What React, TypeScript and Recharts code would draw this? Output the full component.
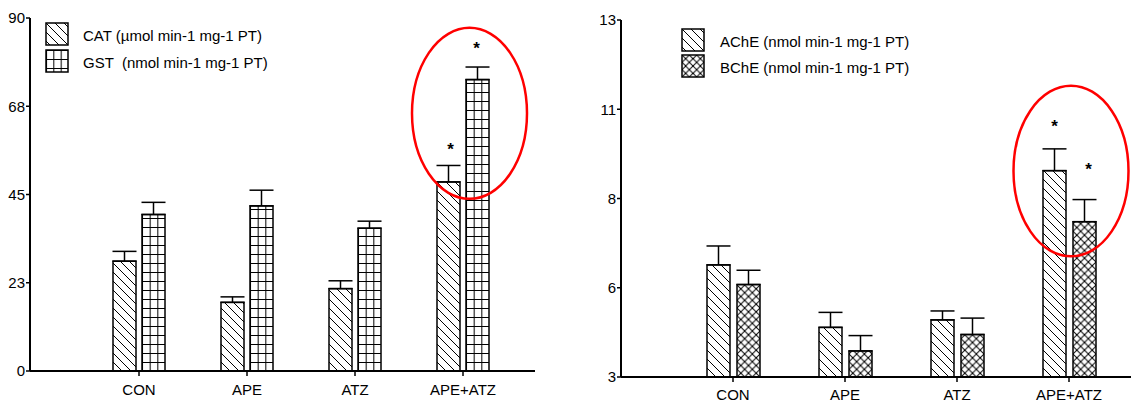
import React from 'react';
import { BarChart, Bar, XAxis, YAxis, ErrorBar, LabelList, Legend } from 'recharts';

// ---------- data ----------
const categories = ['CON', 'APE', 'ATZ', 'APE+ATZ'];

const catValues = [28.0, 17.5, 21.0, 48.2];
const catErrors = [2.5, 1.4, 2.0, 4.2];
const catSig = [false, false, false, true];
const gstValues = [39.9, 42.1, 36.4, 74.3];
const gstErrors = [3.1, 4.0, 1.8, 3.2];
const gstSig = [false, false, false, true];

const acheValues = [6.14, 4.39, 4.6, 8.78];
const acheErrors = [0.53, 0.42, 0.25, 0.61];
const acheSig = [false, false, false, true];
const bcheValues = [5.59, 3.73, 4.19, 7.35];
const bcheErrors = [0.4, 0.43, 0.46, 0.62];
const bcheSig = [false, false, false, true];

const leftTicks = [0, 22.5, 45, 67.5, 90];
const rightTicks = [3, 5.5, 8, 10.5, 13];

const leftLegend = ['CAT (µmol min-1 mg-1 PT)', 'GST  (nmol min-1 mg-1 PT)'];
const rightLegend = ['AChE (nmol min-1 mg-1 PT)', 'BChE (nmol min-1 mg-1 PT)'];

// highlighted group (red ellipse), value range in data units
const leftHighlight = { category: 'APE+ATZ', y1: 43.9, y2: 87.5 };
const rightHighlight = { category: 'APE+ATZ', y1: 6.38, y2: 11.16 };

const leftData = categories.map((c, i) => ({
  name: c,
  cat: catValues[i],
  catErr: [0, catErrors[i]],
  gst: gstValues[i],
  gstErr: [0, gstErrors[i]],
}));

const rightData = categories.map((c, i) => ({
  name: c,
  ache: acheValues[i],
  acheErr: [0, acheErrors[i]],
  bche: bcheValues[i],
  bcheErr: [0, bcheErrors[i]],
}));

const FONT = '"Liberation Sans", Arial, sans-serif';

type PType = 'diag' | 'grid' | 'cross';

function makePattern(type: PType, id: string, x: number, y: number, w: number) {
  if (type === 'diag') {
    const s = 9;
    return (
      <pattern id={id} patternUnits="userSpaceOnUse" x={x} y={y} width={s} height={s}>
        <rect x={0} y={0} width={s} height={s} fill="#fff" />
        <path d={`M-1,-1 L${s + 1},${s + 1} M-1,${s - 1} L1,${s + 1} M${s - 1},-1 L${s + 1},1`} stroke="#000" strokeWidth={1} />
      </pattern>
    );
  }
  if (type === 'grid') {
    const tw = w / 3;
    const th = 9;
    return (
      <pattern id={id} patternUnits="userSpaceOnUse" x={x} y={y} width={tw} height={th}>
        <rect x={0} y={0} width={tw} height={th} fill="#fff" />
        <path d={`M0,0 H${tw} M0,0 V${th}`} stroke="#000" strokeWidth={2} />
      </pattern>
    );
  }
  const tw = w / 3;
  const th = tw;
  return (
    <pattern id={id} patternUnits="userSpaceOnUse" x={x} y={y} width={tw} height={th}>
      <rect x={0} y={0} width={tw} height={th} fill="#fff" />
      <path d={`M0,0 L${tw},${th} M${tw},0 L0,${th}`} stroke="#000" strokeWidth={1} />
      <circle cx={tw / 2} cy={th / 2} r={0.9} fill="#000" />
    </pattern>
  );
}

function patternShape(type: PType, prefix: string) {
  return (props: any) => {
    const { x, y, width, height, index } = props;
    if (!height || height <= 0) return <g />;
    const id = `${prefix}-${index}`;
    return (
      <g>
        <defs>{makePattern(type, id, x, y + height, width)}</defs>
        <rect x={x} y={y} width={width} height={height} fill={`url(#${id})`} stroke="#000" strokeWidth={1.5} />
      </g>
    );
  };
}

function starLabel(sig: boolean[], errs: number[], base: number, off: number, dx: number) {
  return (props: any) => {
    const { x, y, width, height, index, value } = props;
    if (!sig[index]) return null;
    const ppu = height / (value - base);
    const capY = y - errs[index] * ppu;
    return (
      <text x={x + width / 2 + dx} y={capY - off} textAnchor="middle" fontSize={17} fontWeight="bold" fontFamily={FONT} fill="#000">
        *
      </text>
    );
  };
}

// red ellipse drawn in the label layer of the second series so it sits above the bars
function ellipseLabel(hi: { category: string; y1: number; y2: number }, base: number, dx: number, rx: number) {
  return (props: any) => {
    const { x, y, height, index, value } = props;
    if (categories[index] !== hi.category) return null;
    const ppu = height / (value - base);
    const yBase = y + height;
    const top = yBase - (hi.y2 - base) * ppu;
    const bottom = yBase - (hi.y1 - base) * ppu;
    return (
      <ellipse
        cx={x + dx}
        cy={(top + bottom) / 2}
        rx={rx}
        ry={(bottom - top) / 2}
        fill="none"
        stroke="#ff0000"
        strokeWidth={2.5}
      />
    );
  };
}

function legendContent(labels: string[], types: PType[], prefix: string, rowStep: number, textLeft: number) {
  return () => (
    <div style={{ position: 'relative', width: 260, height: rowStep * 2, fontFamily: FONT }}>
      {labels.map((l, i) => (
        <React.Fragment key={l}>
          <svg width={24} height={24} style={{ position: 'absolute', left: 0, top: i * rowStep }}>
            <defs>{makePattern(types[i], `${prefix}-${i}`, 1, 1, 22)}</defs>
            <rect x={1} y={1} width={22} height={22} fill={`url(#${prefix}-${i})`} stroke="#000" strokeWidth={1.5} />
          </svg>
          <span
            style={{
              position: 'absolute',
              left: textLeft,
              top: i * rowStep + 6,
              fontSize: 15,
              lineHeight: '15px',
              whiteSpace: 'pre',
              color: '#000',
            }}
          >
            {l}
          </span>
        </React.Fragment>
      ))}
    </div>
  );
}

const axisTick = { fill: '#000', fontSize: 15, fontFamily: FONT };

export default function App() {
  return (
    <div style={{ position: 'absolute', left: 0, top: 0, width: 1131, height: 400, background: '#fff', overflow: 'hidden' }}>
      <div style={{ position: 'absolute', left: 0, top: 0 }}>
        <BarChart
          width={560}
          height={400}
          data={leftData}
          margin={{ top: 18, right: 25, bottom: 0, left: 0 }}
          barSize={23}
          barGap={6}
        >
          <XAxis
            dataKey="name"
            height={29}
            padding={{ left: 55, right: 18 }}
            tick={axisTick}
            tickSize={5}
            tickMargin={8}
            axisLine={{ stroke: '#000', strokeWidth: 2 }}
            tickLine={{ stroke: '#000', strokeWidth: 1.5 }}
          />
          <YAxis
            width={30}
            domain={[0, 90]}
            ticks={leftTicks}
            tickFormatter={(v: number) => String(Math.round(v))}
            tick={axisTick}
            tickSize={4}
            tickMargin={1}
            interval={0}
            axisLine={{ stroke: '#000', strokeWidth: 2 }}
            tickLine={{ stroke: '#000', strokeWidth: 1.5 }}
          />
          <Legend
            layout="vertical"
            align="center"
            verticalAlign="middle"
            wrapperStyle={{ position: 'absolute', left: 45, top: 22, width: 260 }}
            content={legendContent(leftLegend, ['diag', 'grid'], 'lleg', 27, 38)}
          />
          <Bar dataKey="cat" isAnimationActive={false} shape={patternShape('diag', 'pcat')}>
            <ErrorBar dataKey="catErr" direction="y" width={12} stroke="#000" strokeWidth={1.5} />
            <LabelList dataKey="cat" content={starLabel(catSig, catErrors, 0, 10, 2)} />
          </Bar>
          <Bar dataKey="gst" isAnimationActive={false} shape={patternShape('grid', 'pgst')}>
            <ErrorBar dataKey="gstErr" direction="y" width={12} stroke="#000" strokeWidth={1.5} />
            <LabelList dataKey="gst" content={starLabel(gstSig, gstErrors, 0, 13, -1)} />
            <LabelList dataKey="gst" content={ellipseLabel(leftHighlight, 0, 3.5, 57.5)} />
          </Bar>
        </BarChart>
      </div>
      <div style={{ position: 'absolute', left: 560, top: 0 }}>
        <BarChart
          width={571}
          height={400}
          data={rightData}
          margin={{ top: 20, right: 0, bottom: 0, left: 31 }}
          barSize={23}
          barGap={7}
        >
          <XAxis
            dataKey="name"
            height={23}
            padding={{ left: 56, right: 6 }}
            tick={axisTick}
            tickSize={5}
            tickMargin={7}
            axisLine={{ stroke: '#000', strokeWidth: 2 }}
            tickLine={{ stroke: '#000', strokeWidth: 1.5 }}
          />
          <YAxis
            width={30}
            domain={[3, 13]}
            ticks={rightTicks}
            tickFormatter={(v: number) => String(Math.round(v))}
            tick={axisTick}
            tickSize={4}
            tickMargin={1}
            interval={0}
            axisLine={{ stroke: '#000', strokeWidth: 2 }}
            tickLine={{ stroke: '#000', strokeWidth: 1.5 }}
          />
          <Legend
            layout="vertical"
            align="center"
            verticalAlign="middle"
            wrapperStyle={{ position: 'absolute', left: 121, top: 28, width: 260 }}
            content={legendContent(rightLegend, ['diag', 'cross'], 'rleg', 26, 39)}
          />
          <Bar dataKey="ache" isAnimationActive={false} shape={patternShape('diag', 'pache')}>
            <ErrorBar dataKey="acheErr" direction="y" width={12} stroke="#000" strokeWidth={1.5} />
            <LabelList dataKey="ache" content={starLabel(acheSig, acheErrors, 3, 17, 0)} />
          </Bar>
          <Bar dataKey="bche" isAnimationActive={false} shape={patternShape('cross', 'pbche')}>
            <ErrorBar dataKey="bcheErr" direction="y" width={12} stroke="#000" strokeWidth={1.5} />
            <LabelList dataKey="bche" content={starLabel(bcheSig, bcheErrors, 3, 25, 4)} />
            <LabelList dataKey="bche" content={ellipseLabel(rightHighlight, 3, -2, 57.5)} />
          </Bar>
        </BarChart>
      </div>
    </div>
  );
}
